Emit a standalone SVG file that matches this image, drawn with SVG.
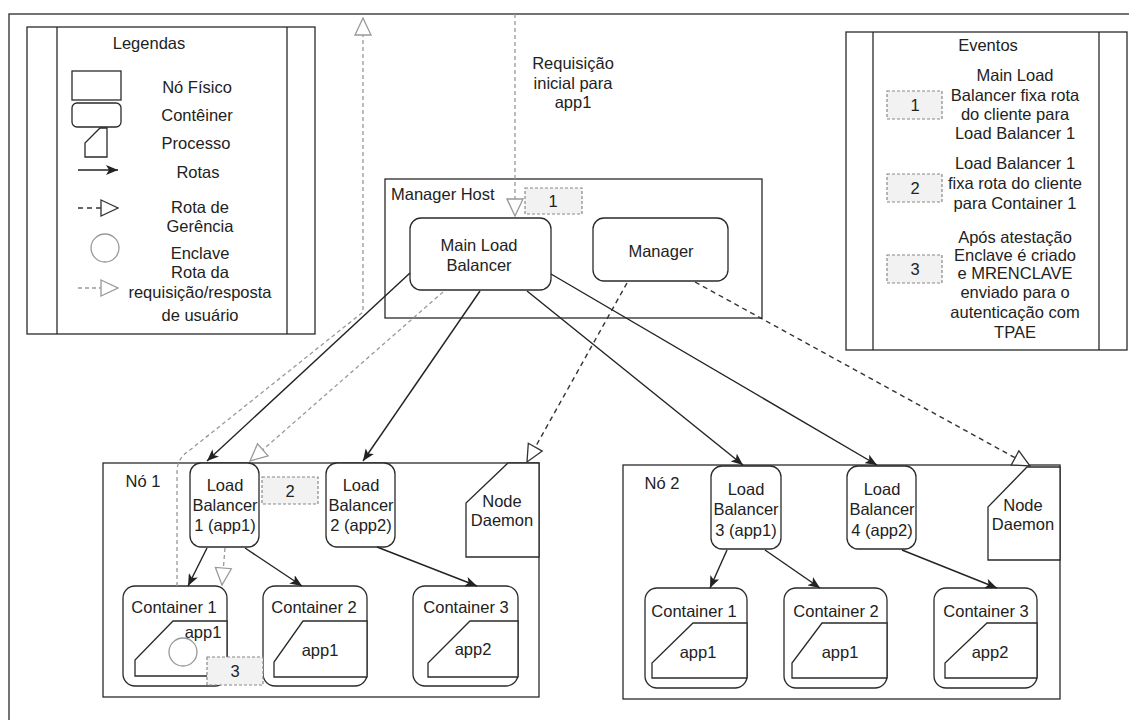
<svg xmlns="http://www.w3.org/2000/svg" width="1129" height="720" viewBox="0 0 1129 720">
<style>
text{font-family:"Liberation Sans",Arial,sans-serif;font-size:16.5px;fill:#222;text-anchor:middle;dominant-baseline:central}
.s{fill:#fff;stroke:#2a2a2a;stroke-width:1.3}
.n{fill:none;stroke:#2a2a2a;stroke-width:1.3}
.ev{fill:#f2f2f2;stroke:#888;stroke-width:1.2;stroke-dasharray:3 2}
.sol{fill:none;stroke:#222;stroke-width:1.4;marker-end:url(#arr)}
.mg{fill:none;stroke:#333;stroke-width:1.4;stroke-dasharray:5 4;marker-end:url(#tri)}
.us{fill:none;stroke:#999;stroke-width:1.3;stroke-dasharray:4 3;marker-end:url(#tril)}
.st{text-anchor:start}
</style>
<defs>
<marker id="arr" markerUnits="userSpaceOnUse" markerWidth="12" markerHeight="10" viewBox="0 0 12 10" refX="12" refY="5" orient="auto"><path d="M0,0 L12,5 L0,10 L3,5 Z" fill="#222"/></marker>
<marker id="tri" markerUnits="userSpaceOnUse" markerWidth="19" markerHeight="19" viewBox="0 0 19 19" refX="18" refY="9.5" orient="auto"><path d="M1,1.5 L18,9.5 L1,17.5 Z" fill="#fff" stroke="#333" stroke-width="1.3"/></marker>
<marker id="tril" markerUnits="userSpaceOnUse" markerWidth="19" markerHeight="19" viewBox="0 0 19 19" refX="18" refY="9.5" orient="auto"><path d="M1,1.5 L18,9.5 L1,17.5 Z" fill="#fff" stroke="#999" stroke-width="1.3"/></marker>
</defs>
<rect width="1129" height="720" fill="#fff"/>
<rect x="9" y="14" width="1140" height="730" class="n"/>

<g id="legend">
<rect x="27" y="27" width="288" height="307" class="s"/>
<line x1="57" y1="27" x2="57" y2="334" class="n"/>
<line x1="287" y1="27" x2="287" y2="334" class="n"/>
<text x="149" y="43">Legendas</text>
<rect x="72" y="71" width="49" height="29" class="s"/>
<text x="197" y="87">Nó Físico</text>
<rect x="72" y="103" width="49" height="24" rx="5" class="s"/>
<text x="197" y="115">Contêiner</text>
<path d="M85,157 L85,143 L100,128 L107,128 L107,157 Z" class="s"/>
<text x="196" y="143">Processo</text>
<path d="M78,170 L118,170" class="sol"/>
<text x="198" y="172">Rotas</text>
<path d="M78,208 L118,208" class="mg"/>
<text x="200" y="207">Rota de</text>
<text x="200" y="226">Gerência</text>
<circle cx="105" cy="248" r="14" fill="#fff" stroke="#999" stroke-width="1.3"/>
<text x="200" y="253">Enclave</text>
<path d="M78,288 L118,288" class="us"/>
<text x="200" y="272">Rota da</text>
<text x="200" y="292">requisição/resposta</text>
<text x="200" y="315">de usuário</text>
</g>

<g id="eventos">
<rect x="846" y="32" width="281" height="318" class="s"/>
<line x1="873" y1="32" x2="873" y2="350" class="n"/>
<line x1="1099" y1="32" x2="1099" y2="350" class="n"/>
<text x="988" y="45">Eventos</text>
<rect x="887" y="91" width="55" height="28" class="ev"/>
<text x="915" y="105">1</text>
<text x="1015" y="75">Main Load</text>
<text x="1015" y="95">Balancer fixa rota</text>
<text x="1015" y="114">do cliente para</text>
<text x="1015" y="133">Load Balancer 1</text>
<rect x="887" y="174" width="55" height="28" class="ev"/>
<text x="915" y="188">2</text>
<text x="1015" y="163">Load Balancer 1</text>
<text x="1015" y="183">fixa rota do cliente</text>
<text x="1015" y="203">para Container 1</text>
<rect x="887" y="255" width="55" height="28" class="ev"/>
<text x="915" y="269">3</text>
<text x="1015" y="237">Após atestação</text>
<text x="1015" y="255">Enclave é criado</text>
<text x="1015" y="273">e MRENCLAVE</text>
<text x="1015" y="292">enviado para o</text>
<text x="1015" y="312">autenticação com</text>
<text x="1015" y="332">TPAE</text>
</g>

<g id="manager-host">
<rect x="385" y="179" width="377" height="139" class="s"/>
<text x="391" y="194" class="st">Manager Host</text>
</g>
<g id="main-lb">
<rect x="410" y="218" width="141" height="72" rx="11" class="s"/>
<text x="479" y="245">Main Load</text>
<text x="479" y="265">Balancer</text>
</g>
<g id="manager">
<rect x="593" y="218" width="135" height="63" rx="11" class="s"/>
<text x="661" y="251">Manager</text>
</g>
<g id="requisicao-label">
<text x="573" y="63">Requisição</text>
<text x="573" y="83">inicial para</text>
<text x="573" y="102">app1</text>
</g>

<g id="no1">
<rect x="103" y="463" width="436" height="234" class="s"/>
<text x="143" y="481">Nó 1</text>
</g>
<g id="nd1">
<path d="M466,557 L466,503 L508,463 L539,463 L539,557 Z" class="s"/>
<text x="502" y="501">Node</text>
<text x="502" y="520">Daemon</text>
</g>
<g id="lb1">
<rect x="190" y="463" width="69" height="84" rx="11" class="s"/>
<text x="225" y="485">Load</text>
<text x="225" y="505">Balancer</text>
<text x="225" y="525">1 (app1)</text>
</g>
<g id="lb2">
<rect x="326" y="463" width="69" height="84" rx="11" class="s"/>
<text x="361" y="485">Load</text>
<text x="361" y="505">Balancer</text>
<text x="361" y="525">2 (app2)</text>
</g>
<g id="n1c1">
<rect x="123" y="586" width="104" height="100" rx="12" class="s"/>
<text x="174" y="607">Container 1</text>
<path d="M135,676 L135,660 L173,621 L227,621 L227,676 Z" class="s"/>
<text x="203" y="632">app1</text>
<circle cx="183" cy="652" r="14" fill="#fff" stroke="#999" stroke-width="1.3"/>
</g>
<g id="n1c2">
<rect x="263" y="586" width="104" height="100" rx="12" class="s"/>
<text x="314" y="607">Container 2</text>
<path d="M274,677 L274,662 L303,621 L367,621 L367,677 Z" class="s"/>
<text x="320" y="650">app1</text>
</g>
<g id="n1c3">
<rect x="413" y="586" width="105" height="100" rx="12" class="s"/>
<text x="466" y="607">Container 3</text>
<path d="M428,677 L428,663 L470,621 L518,621 L518,677 Z" class="s"/>
<text x="473" y="649">app2</text>
</g>

<g id="no2">
<rect x="623" y="465" width="437" height="234" class="s"/>
<text x="662" y="483">Nó 2</text>
</g>
<g id="nd2">
<path d="M988,560 L988,507 L1027,467 L1060,467 L1060,560 Z" class="s"/>
<text x="1023" y="505">Node</text>
<text x="1023" y="524">Daemon</text>
</g>
<g id="lb3">
<rect x="711" y="466" width="70" height="83" rx="11" class="s"/>
<text x="746" y="489">Load</text>
<text x="746" y="509">Balancer</text>
<text x="746" y="530">3 (app1)</text>
</g>
<g id="lb4">
<rect x="847" y="466" width="69" height="83" rx="11" class="s"/>
<text x="882" y="489">Load</text>
<text x="882" y="509">Balancer</text>
<text x="882" y="530">4 (app2)</text>
</g>
<g id="n2c1">
<rect x="645" y="588" width="102" height="100" rx="12" class="s"/>
<text x="694" y="611">Container 1</text>
<path d="M652,678 L652,663 L693,623 L747,623 L747,678 Z" class="s"/>
<text x="698" y="652">app1</text>
</g>
<g id="n2c2">
<rect x="784" y="588" width="103" height="100" rx="12" class="s"/>
<text x="836" y="611">Container 2</text>
<path d="M792,678 L792,663 L822,623 L887,623 L887,678 Z" class="s"/>
<text x="840" y="652">app1</text>
</g>
<g id="n2c3">
<rect x="934" y="588" width="103" height="100" rx="12" class="s"/>
<text x="986" y="611">Container 3</text>
<path d="M945,678 L945,663 L987,623 L1037,623 L1037,678 Z" class="s"/>
<text x="990" y="652">app2</text>
</g>

<g id="connectors">
<path d="M410,273 L207,461" class="sol"/>
<path d="M480,291 L363,461" class="sol"/>
<path d="M527,291 L743,465" class="sol"/>
<path d="M551,274 L877,465" class="sol"/>
<path d="M207,548 L188,586" class="sol"/>
<path d="M245,548 L302,586" class="sol"/>
<path d="M377,547 L477,586" class="sol"/>
<path d="M727,550 L710,588" class="sol"/>
<path d="M765,550 L820,588" class="sol"/>
<path d="M902,550 L997,588" class="sol"/>
<path d="M627,283 L527,462" class="mg"/>
<path d="M695,282 L1030,466" class="mg"/>
<path d="M515,14 L515,216" class="us"/>
<path d="M443,292 L250,461" class="us"/>
<path d="M225,548 L222,585" class="us"/>
<path d="M177,586 L177,472 Q177,458 190,450 L363,312 L363,18" class="us"/>
</g>

<g id="event-markers">
<rect x="525" y="188" width="57" height="26" class="ev"/>
<text x="553" y="201">1</text>
<rect x="262" y="477" width="56" height="27" class="ev"/>
<text x="290" y="491">2</text>
<rect x="207" y="657" width="56" height="28" class="ev"/>
<text x="235" y="671">3</text>
</g>
</svg>
